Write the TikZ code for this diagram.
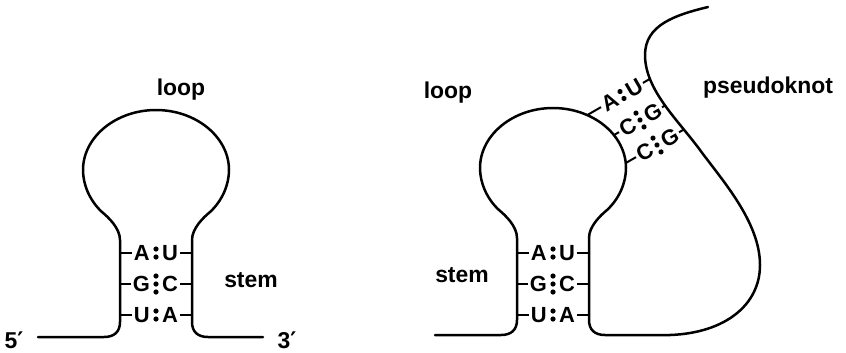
\documentclass[tikz,border=0pt]{standalone}
\usepackage{fontspec}
\setmainfont{Liberation Sans}
\newfontfamily\primefont{DejaVu Sans}
\tikzset{x=1bp, y=-1bp,
    strand/.style={
        line width=2.5bp,
        line cap=round,
        line join=round},
    tick/.style={line width=2bp},
    nt/.style={
        font=\fontsize{22}{24}\selectfont\bfseries,
        inner sep=0pt},
    lbl/.style={
        font=\fontsize{23}{26}\selectfont\bfseries,
        inner sep=0pt,
        anchor=base}}

\newcommand{\stemloop}{%
    -- (104,337)
    .. controls (114,337) and (120,332) .. (120,322)
    -- (120,240)
    .. controls (120,228) and (108,217) .. (102,212)
    .. controls (90,201) and (83,185) .. (83,170)
    .. controls (83,137) and (116,110) .. (156,110)
    .. controls (196,110) and (229,137) .. (229,170)
    .. controls (229,185) and (222,201) .. (210,212)
    .. controls (204,217) and (192,228) .. (192,240)
    -- (192,322)
    .. controls (192,332) and (198,337) .. (208,337)}

\newcommand{\basepair}[8]{%
    \begin{scope}[shift={#2}, rotate=#3]
        \node[nt, anchor=east, rotate=#3] (#1l) at (-6,0) {#4};
        \node[nt, anchor=west, rotate=#3] (#1r) at (6,0) {#5};
        \foreach \d in {#6}
            \fill (0,\d) circle (2.6);
        \draw[tick] (#1l.west) ++(-2,0) -- ++(-#7,0);
        \draw[tick] (#1r.east) ++(2,0) -- ++(#8,0);
    \end{scope}}

\begin{document}
\begin{tikzpicture}
    \useasboundingbox (0,0) rectangle (846,352);

    \draw[strand] (38,337) \stemloop -- (263,337);
    \basepair{au}{(156,253)}{0}{A}{U}{-4,4}{11}{11}
    \basepair{gc}{(156,284)}{0}{G}{C}{-8,0,8}{11}{11}
    \basepair{ua}{(156,315)}{0}{U}{A}{-4,4}{11}{11}
    \node[lbl] (loopa) at (181,95) {loop};
    \node[lbl] (stema) at (251,287) {stem};
    \node[lbl] (five) at (14,348) {5{\primefont ′}};
    \node[lbl] (three) at (287,348) {3{\primefont ′}};

    \begin{scope}[shift={(397,-2)}]
        \draw[strand] (38,337) \stemloop -- (273,337) coordinate (knotfoot);
        \basepair{pau}{(156,255)}{0}{A}{U}{-4,4}{11}{11}
        \basepair{pgc}{(156,286)}{0}{G}{C}{-8,0,8}{11}{11}
        \basepair{pua}{(156,317)}{0}{U}{A}{-4,4}{11}{11}
    \end{scope}
    \draw[strand] (knotfoot)
        .. controls (725,333) and (760,305) .. (760,265)
        .. controls (760,222) and (722,180) .. (700,150)
        .. controls (678,120) and (645,90) .. (645,55)
        .. controls (645,25) and (675,15) .. (708,7);
    \basepair{kau}{(622,95)}{30}{A}{U}{-4,4}{15}{8}
    \basepair{kcg}{(640,120)}{30}{C}{G}{-8,0,8}{6}{4}
    \basepair{kcgb}{(657,145)}{30}{C}{G}{-8,0,8}{11}{5}
    \node[lbl] (loopb) at (448,98) {loop};
    \node[lbl] (stemb) at (462,282) {stem};
    \node[lbl] (knot) at (768,93) {pseudoknot};
\end{tikzpicture}
\end{document}
